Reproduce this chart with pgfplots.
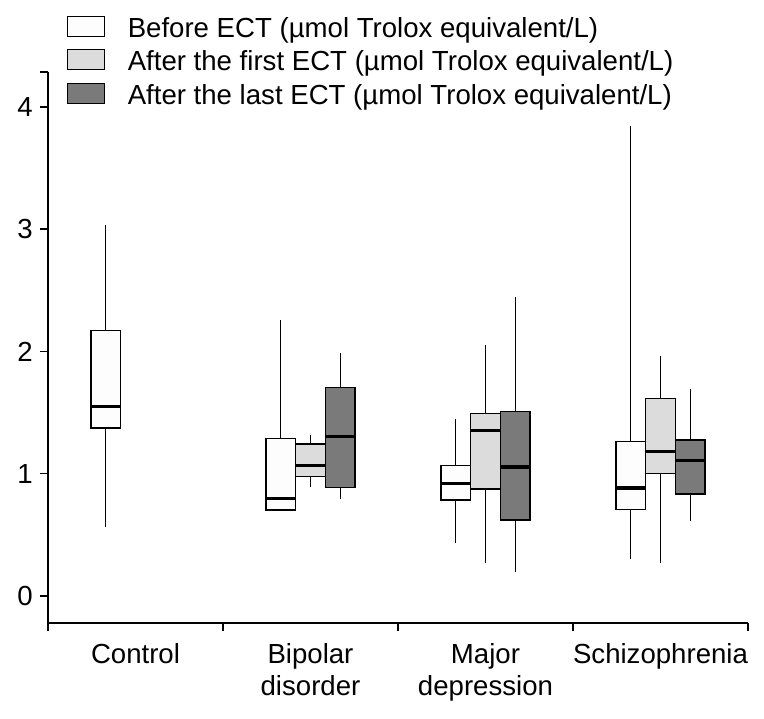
\documentclass[border=0pt]{standalone}
\usepackage{pgfplots}
\pgfplotsset{compat=1.18}
\usepgfplotslibrary{statistics}
\usepackage{fontspec}
\setmainfont{Liberation Sans}
\definecolor{whitebox}{HTML}{FDFDFD}
\definecolor{lightbox}{HTML}{DCDCDC}
\definecolor{darkbox}{HTML}{7A7A7A}
\newcommand{\bigfont}{\fontsize{20.7}{23.5}\selectfont}
\pgfplotsset{
  bx/.style={forget plot, draw=black, line width=1.1pt},
}
\begin{document}
\begin{tikzpicture}
\path[use as bounding box] (-36pt,-71.25pt) rectangle (537pt,467.25pt);
\begin{axis}[
  scale only axis, width=525pt, height=413.25pt,
  xmin=0, xmax=4, ymin=-0.22, ymax=4.285,
  axis x line=bottom, axis y line=left,
  axis line style={line width=1pt,-},
  every tick/.style={black, line width=1pt},
  major tick length=6pt, tick align=outside,
  xtick={0,1,2,3,4}, xticklabels={},
  extra x ticks={0.5,1.5,2.5,3.5},
  extra x tick labels={Control, Bipolar\\disorder, Major\\depression, Schizophrenia},
  extra x tick style={major tick length=0pt, tick label style={align=center, yshift=-12pt}},
  ytick={0,1,2,3,4},
  extra y ticks={4.285}, extra y tick labels={},
  tick label style={font=\bigfont},
  /pgf/number format/assume math mode=true,
  yticklabel style={xshift=-2pt},
  boxplot/draw direction=y,
  boxplot/whisker extend=0,
  boxplot/every median/.style={line width=2.4pt},
  boxplot/every whisker/.style={line width=1.1pt},
  boxplot/every box/.style={line width=1.1pt},
  legend style={at={(0.0271,1.1023)}, anchor=north west, draw=none, fill=none,
    inner sep=0pt, row sep=3.8pt, font=\bigfont,
    nodes={inner sep=0pt, text height=15.5pt, text depth=5pt}},
  legend cell align=left,
]
% Control
\addplot[bx, fill=whitebox, boxplot prepared={draw position=0.33, box extend=0.17,
  lower whisker=0.563, lower quartile=1.375, median=1.55, upper quartile=2.17, upper whisker=3.03}] coordinates {};
% Bipolar disorder
\addplot[bx, fill=whitebox, boxplot prepared={draw position=1.33, box extend=0.17,
  lower whisker=0.705, lower quartile=0.705, median=0.80, upper quartile=1.287, upper whisker=2.26}] coordinates {};
\addplot[bx, fill=lightbox, boxplot prepared={draw position=1.5, box extend=0.17,
  lower whisker=0.888, lower quartile=0.978, median=1.068, upper quartile=1.243, upper whisker=1.32}] coordinates {};
\addplot[bx, fill=darkbox, boxplot prepared={draw position=1.67, box extend=0.17,
  lower whisker=0.79, lower quartile=0.888, median=1.306, upper quartile=1.707, upper whisker=1.99}] coordinates {};
% Major depression
\addplot[bx, fill=whitebox, boxplot prepared={draw position=2.33, box extend=0.17,
  lower whisker=0.432, lower quartile=0.784, median=0.918, upper quartile=1.068, upper whisker=1.448}] coordinates {};
\addplot[bx, fill=lightbox, boxplot prepared={draw position=2.5, box extend=0.17,
  lower whisker=0.268, lower quartile=0.874, median=1.352, upper quartile=1.494, upper whisker=2.05}] coordinates {};
\addplot[bx, fill=darkbox, boxplot prepared={draw position=2.67, box extend=0.17,
  lower whisker=0.20, lower quartile=0.623, median=1.055, upper quartile=1.511, upper whisker=2.448}] coordinates {};
% Schizophrenia
\addplot[bx, fill=whitebox, boxplot prepared={draw position=3.33, box extend=0.17,
  lower whisker=0.30, lower quartile=0.71, median=0.883, upper quartile=1.265, upper whisker=3.84}] coordinates {};
\addplot[bx, fill=lightbox, boxplot prepared={draw position=3.5, box extend=0.17,
  lower whisker=0.268, lower quartile=1.003, median=1.183, upper quartile=1.617, upper whisker=1.967}] coordinates {};
\addplot[bx, fill=darkbox, boxplot prepared={draw position=3.67, box extend=0.17,
  lower whisker=0.615, lower quartile=0.834, median=1.107, upper quartile=1.276, upper whisker=1.694}] coordinates {};
% legend
\addlegendimage{legend image code/.code={\draw[fill=whitebox,draw=black,line width=0.9pt] (0pt,-4.5pt) rectangle (27.75pt,10.5pt); \path (44.75pt,0pt);}}
\addlegendentry{Before ECT (µmol Trolox equivalent/L)}
\addlegendimage{legend image code/.code={\draw[fill=lightbox,draw=black,line width=0.9pt] (0pt,-4.5pt) rectangle (27.75pt,10.5pt); \path (44.75pt,0pt);}}
\addlegendentry{After the first ECT (µmol Trolox equivalent/L)}
\addlegendimage{legend image code/.code={\draw[fill=darkbox,draw=black,line width=0.9pt] (0pt,-4.5pt) rectangle (27.75pt,10.5pt); \path (44.75pt,0pt);}}
\addlegendentry{After the last ECT (µmol Trolox equivalent/L)}
\end{axis}
\end{tikzpicture}
\end{document}
